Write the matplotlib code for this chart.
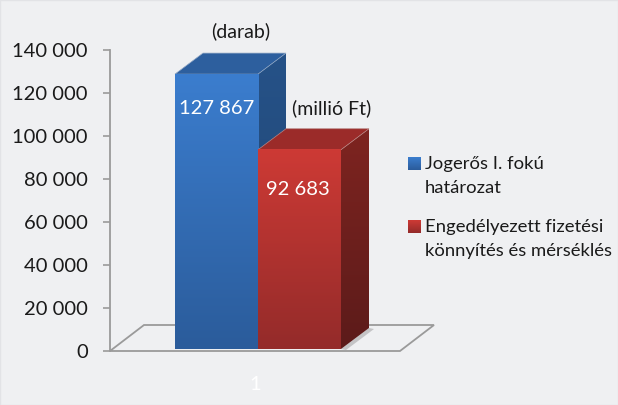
import numpy as np
import matplotlib
matplotlib.use('Agg')
import matplotlib.pyplot as plt
from matplotlib.colors import LinearSegmentedColormap
from matplotlib.patches import Polygon, Rectangle

categories = ['1']
values_db = [127867]
values_ft = [92683]
value_labels = ['127 867', '92 683']
unit_labels = ['(darab)', '(millió Ft)']
legend_labels = ['Jogerős I. fokú\nhatározat', 'Engedélyezett fizetési\nkönnyítés és mérséklés']
yticks = [0, 20000, 40000, 60000, 80000, 100000, 120000, 140000]
ytick_labels = ['0', '20 000', '40 000', '60 000', '80 000', '100 000', '120 000', '140 000']

W, H = 618, 405
bg = '#eff0f2'
txt = '#1a1a1a'
plt.rcParams['font.family'] = ['Lato', 'DejaVu Sans']

fig = plt.figure(figsize=(W / 100, H / 100), dpi=100, facecolor=bg)
ax = fig.add_axes([110 / W, 1 - 351 / H, 290 / W, 301 / H], facecolor='none')
ax.set_xlim(0.5, 1.5)
ax.set_ylim(0, 140000)

# depth of the fake 3d, in data units
per_x = 1 / 290
per_y = 140000 / 301
bar_w = 83 * per_x
dx, dy = 28 * per_x, 21 * per_y
floor_dx, floor_dy = 34 * per_x, 26 * per_y
centre = 0.5 + (258 - 110) * per_x
base = 2 * per_y  # bars stand a little above the axis zero


def vgrad(x0, x1, y0, y1, top, bottom, zorder):
    cmap = LinearSegmentedColormap.from_list('g', [bottom, top])
    g = np.linspace(0, 1, 100).reshape(-1, 1)
    ax.imshow(g, extent=[x0, x1, y0, y1], origin='lower', cmap=cmap, aspect='auto',
              zorder=zorder)


def side_grad(x0, y0, top, bottom, zorder):
    cmap = LinearSegmentedColormap.from_list('g', [bottom, top])
    g = np.linspace(0, 1, 100).reshape(-1, 1)
    im = ax.imshow(g, extent=[x0, x0 + dx, base, y0 + dy], origin='lower', cmap=cmap,
                   aspect='auto', zorder=zorder)
    clip = Polygon([(x0, base), (x0 + dx, base + dy), (x0 + dx, y0 + dy), (x0, y0)],
                   closed=True, transform=ax.transData, fc='none', ec='none')
    ax.add_patch(clip)
    im.set_clip_path(clip)


# floor
floor_x0, floor_x1 = 0.5, 1.5
ax.add_patch(Polygon([(floor_x0, 0), (floor_x1, 0), (floor_x1 + floor_dx, floor_dy),
                      (floor_x0 + floor_dx, floor_dy)], closed=True, fc=bg, ec='#9a9a9a',
                     lw=1.3, clip_on=False, zorder=1))

# shadow next to the red bar
x_end = centre + bar_w
ax.add_patch(Polygon([(x_end, base), (x_end + dx, base + dy),
                      (x_end + dx + 5 * per_x, base + dy - 1 * per_y),
                      (x_end + 5 * per_x, base - 1 * per_y)], closed=True, fc='#c4c4c6', ec='none',
                     zorder=1.5, clip_on=False))

# blue bar
x0 = centre - bar_w
v = values_db[0] + base
side_grad(x0 + bar_w, v, '#265288', '#1f4470', 2)
ax.add_patch(Polygon([(x0, v), (x0 + bar_w, v), (x0 + bar_w + dx, v + dy), (x0 + dx, v + dy)],
                     closed=True, fc='#2d5f9e', ec='#8fa6c4', lw=0.5, zorder=2.2))
vgrad(x0, x0 + bar_w, base, v, '#3b7dce', '#2b5c9b', 3)

# red bar
x1 = centre
v2 = values_ft[0] + base
ax.add_patch(Polygon([(x1, v2), (x1 + bar_w, v2), (x1 + bar_w + dx, v2 + dy), (x1 + dx, v2 + dy)],
                     closed=True, fc='#9b2b29', ec='#b98583', lw=0.5, zorder=3.2))
side_grad(x1 + bar_w, v2, '#7e2420', '#5c1b1a', 3.1)
vgrad(x1, x1 + bar_w, base, v2, '#cd3a35', '#942b2a', 4)

ax.set_xlim(0.5, 1.5)
ax.set_ylim(0, 140000)

ax.text(x0 + bar_w / 2, v - 16000, value_labels[0], color='white', fontsize=14.5,
        ha='center', va='center', zorder=6)
ax.text(x1 + bar_w / 2 - 2 * per_x, v2 - 18500, value_labels[1], color='white', fontsize=14.5,
        ha='center', va='center', zorder=6)
ax.text(x0 + bar_w * 0.79, v + dy + 10000, unit_labels[0], color=txt, fontsize=14,
        ha='center', va='center', clip_on=False)
ax.text(x1 + bar_w * 0.89, v2 + dy + 9500, unit_labels[1], color=txt, fontsize=14,
        ha='center', va='center', clip_on=False)

ax.set_yticks(yticks)
ax.set_yticklabels(ytick_labels, fontsize=14.5, color=txt)
ax.set_xticks([1])
ax.set_xticklabels(categories, color='white', fontsize=14.5)
ax.tick_params(axis='x', length=0, pad=18)
ax.tick_params(axis='y', length=5, width=1.2, color='#9a9a9a', pad=11)
for s in ['top', 'right', 'bottom']:
    ax.spines[s].set_visible(False)
ax.spines['left'].set_color('#9a9a9a')
ax.spines['left'].set_linewidth(1.3)

# legend, placed by hand
leg_colors = [('#3b7dce', '#2b5c9b'), ('#cd3a35', '#942b2a')]
leg_top = [157, 220]
for lab, col, ytop in zip(legend_labels, leg_colors, leg_top):
    lax = fig.add_axes([408 / W, 1 - (ytop + 13) / H, 13 / W, 13 / H])
    lax.imshow(np.linspace(0, 1, 30).reshape(-1, 1), cmap=LinearSegmentedColormap.from_list('l', col),
               aspect='auto')
    lax.axis('off')
    fig.text(425 / W, 1 - (ytop - 1) / H, lab, color=txt, fontsize=13.3, ha='left', va='top',
             linespacing=1.65)

fig.add_artist(Rectangle((0, 0), 1, 1, transform=fig.transFigure, fc='none', ec='#e2e3e6', lw=1))

fig.savefig('out.png', dpi=100, facecolor=bg)
